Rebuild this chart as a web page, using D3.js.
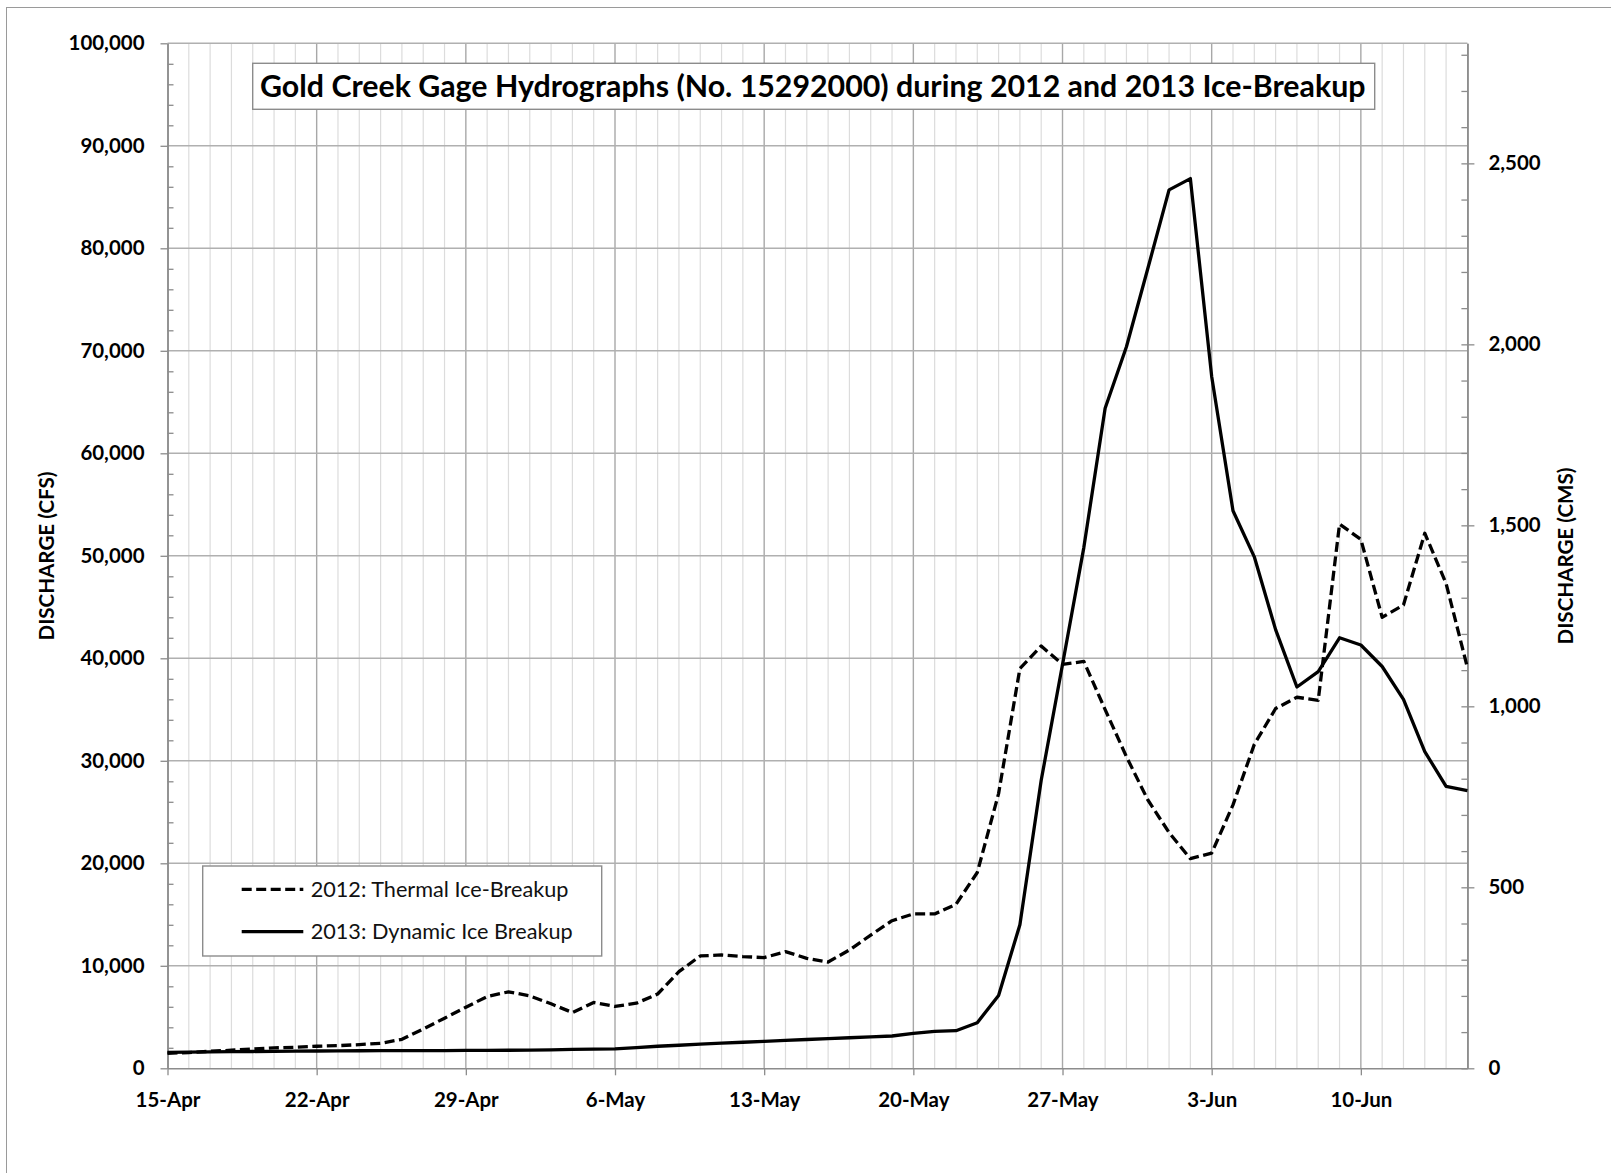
<!DOCTYPE html>
<html>
<head>
<meta charset="utf-8">
<script src="https://cdn.jsdelivr.net/npm/d3@7"></script>
<style>
  html, body { margin: 0; padding: 0; background: #ffffff; }
  svg { display: block; font-family: Lato, "Open Sans", "DejaVu Sans", sans-serif; }
</style>
</head>
<body>
<svg id="chart" width="1611" height="1173"></svg>
<script>
// Gold Creek gage (No. 15292000) daily discharge, 15 April – 15 June, in cfs
const startDay = "2013-04-15";
const flow2012 = [
  1470, 1530, 1660, 1760, 1890, 1990, 2050, 2150, 2210, 2310,
  2440, 2830, 3840, 4890, 5960, 7000, 7460, 7070, 6290, 5440,
  6420, 6030, 6350, 7250, 9430, 10960, 11060, 10900, 10800, 11380,
  10730, 10370, 11540, 13000, 14400, 15060, 15060, 16000, 19100, 26800,
  39000, 41200, 39400, 39700, 35000, 30400, 26200, 23000, 20450, 21000,
  25700, 31600, 35100, 36200, 35900, 53100, 51600, 44000, 45200, 52200,
  47300, 39100
];
const flow2013 = [
  1550, 1580, 1600, 1620, 1640, 1660, 1680, 1690, 1700, 1710,
  1720, 1720, 1730, 1730, 1740, 1750, 1760, 1770, 1800, 1840,
  1870, 1890, 2010, 2150, 2250, 2350, 2450, 2540, 2630, 2720,
  2810, 2900, 2980, 3060, 3150, 3400, 3600, 3670, 4450, 7100,
  14000, 28100, 39400, 50800, 64400, 70400, 78000, 85700, 86800, 67500,
  54400, 49900, 42800, 37200, 38700, 42000, 41300, 39200, 36000, 30900,
  27500, 27100
];
const seriesNames = ["2012: Thermal Ice-Breakup", "2013: Dynamic Ice Breakup"];
const dateTickLabels = ["15-Apr", "22-Apr", "29-Apr", "6-May", "13-May", "20-May", "27-May", "3-Jun", "10-Jun"];
const cfsTicks = [0, 10000, 20000, 30000, 40000, 50000, 60000, 70000, 80000, 90000, 100000];
const cmsTicks = [0, 500, 1000, 1500, 2000, 2500];
const titleText = "Gold Creek Gage Hydrographs (No. 15292000) during 2012 and 2013 Ice-Breakup";
const leftAxisTitle = "DISCHARGE (CFS)";
const rightAxisTitle = "DISCHARGE (CMS)";
const CFS_PER_CMS = 35.3147;

const svg = d3.select("#chart");
const FONT = 'Lato, "Open Sans", "DejaVu Sans", sans-serif';

// plot frame
const plotL = 167.5, plotR = 1467.4, plotT = 43.3, plotB = 1068.3;

const parseDay = d3.timeParse("%Y-%m-%d");
const day0 = parseDay(startDay);
const dayAt = i => d3.timeDay.offset(day0, i);
const nDays = flow2012.length;

const x = d3.scaleTime().domain([day0, dayAt(nDays - 1)]).range([plotL, plotR]);
const y = d3.scaleLinear().domain([0, 100000]).range([plotB, plotT]);
const yCms = d3.scaleLinear().domain([0, 100000 / CFS_PER_CMS]).range([plotB, plotT]);

// font size that makes a string span a given width
function fitSize(str, weight, width) {
  const t = svg.append("text").attr("font-family", FONT).attr("font-weight", weight)
    .attr("font-size", 100).text(str);
  const w = t.node().getComputedTextLength();
  t.remove();
  return 100 * width / w;
}

const tickFont = fitSize("100,000", "bold", 76);
const titleFont = fitSize(titleText, "bold", 1106);
const legendFont = fitSize(seriesNames[0], "normal", 258);
const axisTitleFont = fitSize(rightAxisTitle, "bold", 177);

// outer chart border
svg.append("rect").attr("x", 6.5).attr("y", 7.5).attr("width", 1700).attr("height", 1300)
  .attr("fill", "none").attr("stroke", "#9a9a9a").attr("stroke-width", 1);

// gridlines
const allDays = d3.range(1, nDays - 1).map(dayAt);
const weekDays = dateTickLabels.map((_, k) => dayAt(k * 7));
const grid = svg.append("g");
grid.selectAll("line.minor").data(allDays.filter((d, i) => (i + 1) % 7 !== 0)).join("line")
  .attr("x1", d => x(d)).attr("x2", d => x(d)).attr("y1", plotT).attr("y2", plotB)
  .attr("stroke", "#dcdcdc").attr("stroke-width", 1.2);
grid.selectAll("line.week").data(weekDays.slice(1)).join("line")
  .attr("x1", d => x(d)).attr("x2", d => x(d)).attr("y1", plotT).attr("y2", plotB)
  .attr("stroke", "#a8a8a8").attr("stroke-width", 1.4);
grid.selectAll("line.h").data(cfsTicks.slice(1)).join("line")
  .attr("x1", plotL).attr("x2", plotR).attr("y1", d => y(d)).attr("y2", d => y(d))
  .attr("stroke", "#b0b0b0").attr("stroke-width", 1.5);

function styleAxis(g) {
  g.selectAll(".domain").attr("stroke", "#8c8c8c").attr("stroke-width", 1.5);
  g.selectAll(".tick line").attr("stroke", "#8c8c8c").attr("stroke-width", 1.3);
  g.selectAll("text").attr("font-family", FONT).attr("font-weight", "bold")
    .attr("font-size", tickFont).attr("fill", "#000");
}

// left axis (cfs): major ticks outside, 2,000 minor ticks inside
const minorCfs = d3.range(0, 100001, 2000).filter(v => v % 10000 !== 0);
svg.append("g").attr("transform", `translate(${plotL},0)`)
  .call(d3.axisLeft(y).tickValues(minorCfs).tickSize(-6).tickSizeOuter(0).tickFormat(""))
  .call(styleAxis);
svg.append("g").attr("transform", `translate(${plotL},0)`)
  .call(d3.axisLeft(y).tickValues(cfsTicks).tickSize(7).tickSizeOuter(0).tickPadding(16)
    .tickFormat(d3.format(",")))
  .call(styleAxis);

// right axis (cms): 100 cms minor ticks inside, 500 cms ticks across
const minorCms = d3.range(0, 2801, 100);
svg.append("g").attr("transform", `translate(${plotR},0)`)
  .call(d3.axisRight(yCms).tickValues(minorCms).tickSize(-6).tickSizeOuter(0).tickFormat(""))
  .call(styleAxis);
svg.append("g").attr("transform", `translate(${plotR},0)`)
  .call(d3.axisRight(yCms).tickValues(cmsTicks).tickSize(7).tickSizeOuter(0).tickPadding(14)
    .tickFormat(d3.format(",")))
  .call(styleAxis);

// date axis
svg.append("g").attr("transform", `translate(0,${plotB})`)
  .call(d3.axisBottom(x).tickValues(weekDays).tickSize(7).tickSizeOuter(0).tickPadding(17)
    .tickFormat((d, i) => dateTickLabels[i]))
  .call(styleAxis);

// axis titles
svg.append("text").attr("transform", `translate(54,556) rotate(-90)`)
  .attr("text-anchor", "middle").attr("font-family", FONT).attr("font-weight", "bold")
  .attr("font-size", axisTitleFont).text(leftAxisTitle);
svg.append("text").attr("transform", `translate(1573,556) rotate(-90)`)
  .attr("text-anchor", "middle").attr("font-family", FONT).attr("font-weight", "bold")
  .attr("font-size", axisTitleFont).text(rightAxisTitle);

// hydrograph lines
const line = d3.line().x((d, i) => x(dayAt(i))).y(d => y(d));
svg.append("path").datum(flow2013).attr("d", line)
  .attr("fill", "none").attr("stroke", "#000").attr("stroke-width", 3.3)
  .attr("stroke-linejoin", "round");
svg.append("path").datum(flow2012).attr("d", line)
  .attr("fill", "none").attr("stroke", "#000").attr("stroke-width", 3.3)
  .attr("stroke-dasharray", "10,4.5").attr("stroke-linejoin", "round");

// title box
svg.append("rect").attr("x", 252.7).attr("y", 63.3).attr("width", 1122).attr("height", 46)
  .attr("fill", "#fff").attr("stroke", "#8c8c8c").attr("stroke-width", 1.4);
svg.append("text").attr("x", 260).attr("y", 96.5)
  .attr("font-family", FONT).attr("font-weight", "bold").attr("font-size", titleFont)
  .text(titleText);

// legend
const lg = svg.append("g");
lg.append("rect").attr("x", 202.7).attr("y", 866).attr("width", 399).attr("height", 90)
  .attr("fill", "#fff").attr("stroke", "#8c8c8c").attr("stroke-width", 1.4);
const legendRows = [
  { name: seriesNames[0], y: 889.3, dash: "10,4.5" },
  { name: seriesNames[1], y: 931.7, dash: null }
];
legendRows.forEach(r => {
  lg.append("line").attr("x1", 241.7).attr("x2", 303.3).attr("y1", r.y).attr("y2", r.y)
    .attr("stroke", "#000").attr("stroke-width", 3.3)
    .attr("stroke-dasharray", r.dash);
  lg.append("text").attr("x", 310.7).attr("y", r.y).attr("dy", "0.35em")
    .attr("font-family", FONT).attr("font-size", legendFont).attr("fill", "#111")
    .text(r.name);
});
</script>
</body>
</html>
